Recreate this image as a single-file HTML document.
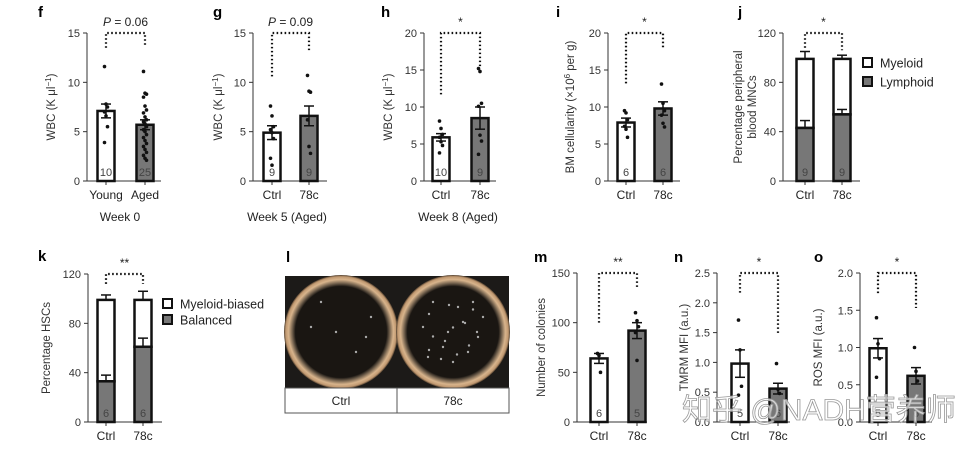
<!DOCTYPE html>
<html><head><meta charset="utf-8"><style>
body{margin:0;background:#fff;width:963px;height:453px;overflow:hidden}
svg{display:block;font-family:"Liberation Sans","Noto Sans CJK SC",sans-serif}
</style></head><body>
<svg id="fig" width="963" height="453" viewBox="0 0 963 453"></svg>
<script>
// ---- data arrays ----
const fCats=["Young","Aged"], fMeans=[7.1,5.7], fErr=[0.7,0.5], fN=["10","25"];
const fDots=[[11.6,7.8,7.5,7.0,6.6,5.5,3.9],[11.1,8.9,8.8,8.5,7.6,7.2,6.9,6.5,6.2,6.0,5.8,5.5,5.2,5.0,4.7,4.4,4.1,3.8,3.5,3.2,2.9,2.6,2.3,2.1]];
const gCats=["Ctrl","78c"], gMeans=[4.9,6.6], gErr=[0.7,1.0], gN=["9","9"];
const gDots=[[7.6,6.6,5.5,5.2,4.9,4.3,2.3,1.6],[10.7,9.1,9.0,6.2,3.5,2.8]];
const hCats=["Ctrl","78c"], hMeans=[5.9,8.5], hErr=[0.5,1.5], hN=["10","9"];
const hDots=[[8.1,7.1,6.3,5.9,5.3,4.8,3.8],[15.2,14.8,10.5,10.1,6.2,5.4,3.6]];
const iCats=["Ctrl","78c"], iMeans=[7.9,9.8], iErr=[0.6,0.9], iN=["6","6"];
const iDots=[[9.5,9.2,8.3,7.4,7.0,5.9],[13.1,10.5,9.5,8.9,7.8,7.3]];
const jCats=["Ctrl","78c"], jLow=[43,54], jLowErr=[6,4], jTot=[99,99], jTotErr=[6,3], jN=["9","9"];
const kCats=["Ctrl","78c"], kLow=[33,61], kLowErr=[5,7], kTot=[99,99], kTotErr=[4,7], kN=["6","6"];
const mCats=["Ctrl","78c"], mMeans=[64,92], mErr=[5,8], mN=["6","5"];
const mDots=[[69,67,50],[110,102,96,90,62]];
const nCats=["Ctrl","78c"], nMeans=[0.98,0.56], nErr=[0.23,0.09], nN=["5","6"];
const nDots=[[1.71,1.21,0.6,0.45],[0.98,0.55,0.48]];
const oCats=["Ctrl","78c"], oMeans=[0.99,0.62], oErr=[0.13,0.11], oN=["5","6"];
const oDots=[[1.4,1.05,0.85,0.6],[1.0,0.68,0.55]];

const S=document.getElementById('fig'), NS='http://www.w3.org/2000/svg';
function el(t,a,p){const e=document.createElementNS(NS,t);for(const k in a)e.setAttribute(k,a[k]);(p||S).appendChild(e);return e;}
function txt(x,y,s,a,p){const e=el('text',Object.assign({x:x,y:y},a||{}),p);e.textContent=s;return e;}

function panel(cfg){
  const g=el('g',{});
  
  
  const Y=v=>cfg.y0-(v/cfg.ymax)*(cfg.y0-cfg.yt);
  txt(cfg.lx,cfg.ly,cfg.letter,{'font-size':15,'font-weight':'bold'},g);
  el('line',{x1:cfg.ax,y1:cfg.yt,x2:cfg.ax,y2:cfg.y0,stroke:'#333','stroke-width':1},g);
  el('line',{x1:cfg.ax,y1:cfg.y0,x2:cfg.axEnd,y2:cfg.y0,stroke:'#333','stroke-width':1},g);
  cfg.ticks.forEach(t=>{
    el('line',{x1:cfg.ax-4,y1:Y(t),x2:cfg.ax,y2:Y(t),stroke:'#333'},g);
    const tl=txt(cfg.ax-7,Y(t)+4,cfg.tickFmt?cfg.tickFmt(t):String(t),{'font-size':11,'text-anchor':'end',fill:'#333'},g);
    
    
  });
  const yl=txt(0,0,'',{'font-size':11.5,'text-anchor':'middle',fill:'#333',transform:`translate(${cfg.ylx},${(cfg.yt+cfg.y0)/2}) rotate(-90)`},g);
  
  
  cfg.ylabel.forEach((l,i)=>{const ts=el('tspan',{x:0,dy:i?14:0},yl);ts.innerHTML=l;});
  const bw=17;
  cfg.cats.forEach((c,i)=>{
    const cx=cfg.cx[i];
    el('line',{x1:cx,y1:cfg.y0,x2:cx,y2:cfg.y0+4,stroke:'#333'},g);
    const cl=txt(cx,cfg.y0+18,c,{'font-size':12,'text-anchor':'middle',fill:'#222'},g);
    
    
    if(cfg.stack){
      const top=Y(cfg.tot[i]), mid=Y(cfg.low[i]);
      el('line',{x1:cx,y1:top,x2:cx,y2:Y(cfg.tot[i]+cfg.totErr[i]),stroke:'#111','stroke-width':1.5},g);
      el('line',{x1:cx-5,y1:Y(cfg.tot[i]+cfg.totErr[i]),x2:cx+5,y2:Y(cfg.tot[i]+cfg.totErr[i]),stroke:'#111','stroke-width':1.5},g);
      const b1=el('rect',{x:cx-bw/2,y:top,width:bw,height:mid-top,fill:'#fff',stroke:'#111','stroke-width':2.5},g);
      
      
      const b2=el('rect',{x:cx-bw/2,y:mid,width:bw,height:cfg.y0-mid,fill:'#777',stroke:'#111','stroke-width':2.5},g);
      
      
      const ey=Y(cfg.low[i]+cfg.lowErr[i]);
      el('line',{x1:cx,y1:mid,x2:cx,y2:ey,stroke:'#111','stroke-width':1.5},g);
      el('line',{x1:cx-5,y1:ey,x2:cx+5,y2:ey,stroke:'#111','stroke-width':1.5},g);
    } else {
      const top=Y(cfg.means[i]);
      const b=el('rect',{x:cx-bw/2,y:top,width:bw,height:cfg.y0-top,fill:i?'#777':'#fff',stroke:'#111','stroke-width':2.5},g);
      
      
      const e1=Y(cfg.means[i]+cfg.err[i]), e2=Y(cfg.means[i]-cfg.err[i]);
      el('line',{x1:cx,y1:e1,x2:cx,y2:e2,stroke:'#111','stroke-width':1.5},g);
      el('line',{x1:cx-5,y1:e1,x2:cx+5,y2:e1,stroke:'#111','stroke-width':1.5},g);
      el('line',{x1:cx-5,y1:e2,x2:cx+5,y2:e2,stroke:'#111','stroke-width':1.5},g);
      cfg.dots[i].forEach((v,j)=>{
        const d=el('circle',{cx:cx+((j%3)-1)*1.5,cy:Y(v),r:1.8,fill:'#111'},g);
        
        
      });
    }
    txt(cx,cfg.y0-5,cfg.n[i],{'font-size':11,'text-anchor':'middle',fill:'#444'},g);
  });
  const by=cfg.yt, a=cfg.cx[0], b=cfg.cx[1];
  el('path',{d:`M${a},${Y(cfg.br[0])}V${by}H${b}V${Y(cfg.br[1])}`,fill:'none',stroke:'#111','stroke-width':2.2,'stroke-dasharray':'1.6 2.4'},g);
  const sig=txt((a+b)/2,by-7,'',{'font-size':12,'text-anchor':'middle',fill:'#222'},g);
  sig.innerHTML=cfg.sig;
  
  
  if(cfg.xtitle){const xt=txt(cfg.xtx,cfg.y0+40,cfg.xtitle,{'font-size':12,'text-anchor':'middle',fill:'#222'},g);
    
    }
  if(cfg.legend){cfg.legend.forEach((l,i)=>{
    const ly=cfg.legY+i*cfg.legDy;
    const r=el('rect',{x:cfg.legX,y:ly-5,width:9,height:9,fill:i?'#777':'#fff',stroke:'#111','stroke-width':2},g);
    
    
    const t=txt(cfg.legX+17,ly+4.5,l,{'font-size':12.5,fill:'#222'},g);
    
    
  });}
}
const wbc='WBC (K μl<tspan dy="-4" font-size="8">−1</tspan><tspan dy="4">)</tspan>';
panel({letter:'f',lx:38,ly:17,ax:87,axEnd:161,y0:181,yt:33,ymax:15,ticks:[0,5,10,15],ylx:55,ylabel:[wbc],cats:fCats,cx:[106,145],means:fMeans,err:fErr,n:fN,dots:fDots,br:[13.5,13.7],sig:'<tspan font-style="italic">P</tspan> = 0.06',xtitle:'Week 0',xtx:120});
panel({letter:'g',lx:213,ly:17,ax:253,axEnd:327,y0:181,yt:33,ymax:15,ticks:[0,5,10,15],ylx:222,ylabel:[wbc],cats:gCats,cx:[272,309],means:gMeans,err:gErr,n:gN,dots:gDots,br:[10.6,13.2],sig:'<tspan font-style="italic">P</tspan> = 0.09',xtitle:'Week 5 (Aged)',xtx:287});
panel({letter:'h',lx:381,ly:17,ax:424,axEnd:496,y0:181,yt:33,ymax:20,ticks:[0,5,10,15,20],ylx:392,ylabel:[wbc],cats:hCats,cx:[441,480],means:hMeans,err:hErr,n:hN,dots:hDots,br:[11.7,15.5],sig:'*',xtitle:'Week 8 (Aged)',xtx:458});
panel({letter:'i',lx:556,ly:17,ax:608,axEnd:680,y0:181,yt:33,ymax:20,ticks:[0,5,10,15,20],ylx:574,ylabel:['BM cellularity (×10<tspan dy="-4" font-size="8">6</tspan><tspan dy="4"> per g)</tspan>'],cats:iCats,cx:[626,663],means:iMeans,err:iErr,n:iN,dots:iDots,br:[13.2,17.8],sig:'*'});
panel({letter:'j',lx:738,ly:17,ax:783,axEnd:860,y0:181,yt:33,ymax:120,ticks:[0,40,80,120],ylx:742,ylabel:['Percentage peripheral','blood MNCs'],cats:jCats,cx:[805,842],stack:true,low:jLow,lowErr:jLowErr,tot:jTot,totErr:jTotErr,n:jN,br:[108,106],sig:'*',legend:['Myeloid','Lymphoid'],legX:863,legY:63,legDy:19});
panel({letter:'k',lx:38,ly:261,ax:88,axEnd:162,y0:422,yt:274,ymax:120,ticks:[0,40,80,120],ylx:50,ylabel:['Percentage HSCs'],cats:kCats,cx:[106,143],stack:true,low:kLow,lowErr:kLowErr,tot:kTot,totErr:kTotErr,n:kN,br:[112,112],sig:'**',legend:['Myeloid-biased','Balanced'],legX:163,legY:304,legDy:16});
panel({letter:'m',lx:534,ly:262,ax:577,axEnd:647,y0:422,yt:273,ymax:150,ticks:[0,50,100,150],ylx:545,ylabel:['Number of colonies'],cats:mCats,cx:[599,637],means:mMeans,err:mErr,n:mN,dots:mDots,br:[100,136],sig:'**'});
panel({letter:'n',lx:674,ly:262,ax:717,axEnd:790,y0:422,yt:273,ymax:2.5,ticks:[0,0.5,1,1.5,2,2.5],tickFmt:t=>t.toFixed(1),ylx:688,ylabel:['TMRM MFI (a.u.)'],cats:nCats,cx:[740,778],means:nMeans,err:nErr,n:nN,dots:nDots,br:[2.17,1.47],sig:'*'});
panel({letter:'o',lx:814,ly:262,ax:860,axEnd:932,y0:422,yt:273,ymax:2.0,ticks:[0,0.5,1,1.5,2],tickFmt:t=>t.toFixed(1),ylx:822,ylabel:['ROS MFI (a.u.)'],cats:oCats,cx:[878,916],means:oMeans,err:oErr,n:oN,dots:oDots,br:[1.73,1.53],sig:'*'});

// panel l photo
const gl=el('g',{});


txt(286,262,'l',{'font-size':15,'font-weight':'bold'},gl);
const defs=el('defs',{},gl);
const rg=el('radialGradient',{id:'rim'},defs);
el('stop',{offset:'0.80','stop-color':'#1a1612'},rg);
el('stop',{offset:'0.85','stop-color':'#6a5a48'},rg);
el('stop',{offset:'0.92','stop-color':'#d8b48c'},rg);
el('stop',{offset:'0.97','stop-color':'#c09870'},rg);
el('stop',{offset:'1','stop-color':'#4a3a2a'},rg);
const colonySpots=[[-20,-30],[5,-25],[-30,-5],[10,-10],[25,5],[-10,15],[15,20],[-25,25],[30,-15],[0,30],[-5,0],[20,-30]];
[[285,397,341,'Ctrl'],[397,509,453,'78c']].forEach(([x1,x2,cx,lab],k)=>{
  el('rect',{x:x1,y:276,width:x2-x1,height:112,fill:'#1c1a18'},gl);
  const c=el('circle',{cx:cx,cy:332,r:57,fill:'url(#rim)'},gl);
  
  
  colonySpots.forEach(([dx,dy],j)=>{ if(k===0&&j%2) return;
    el('circle',{cx:cx+dx,cy:332+dy,r:1.2,fill:'#aaa'},gl);
    if(k===1) el('circle',{cx:cx+dy*0.8,cy:332+dx*0.9,r:1.2,fill:'#aaa'},gl);
  });
  el('rect',{x:x1,y:388,width:x2-x1,height:25,fill:'#fff',stroke:'#555','stroke-width':1},gl);
  const t=txt(cx,405,lab,{'font-size':12,'text-anchor':'middle',fill:'#222'},gl);
  
  
});
const wm=txt(682,420,'知乎 @NADH营养师',{'font-size':30,fill:'#fff','fill-opacity':0.7,stroke:'#999','stroke-width':0.8});


</script>
</body></html>
